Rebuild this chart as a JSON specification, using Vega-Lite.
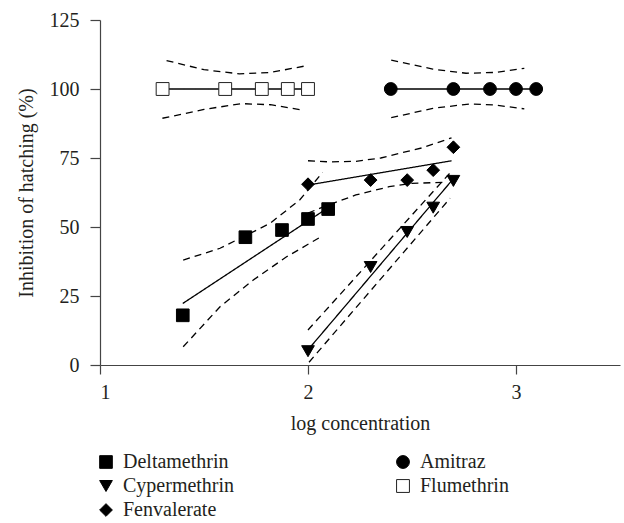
{
  "$schema": "https://vega.github.io/schema/vega-lite/v6.json",
  "autosize": {"type": "none"},
  "padding": {"left": 100, "top": 20, "right": 4, "bottom": 158},
  "width": 520,
  "height": 345,
  "background": "white",
  "config": {
    "view": {"stroke": null},
    "font": "Liberation Serif",
    "axis": {
      "grid": false,
      "domainColor": "#444",
      "tickColor": "#444",
      "domainWidth": 1.2,
      "tickWidth": 1.2,
      "labelFont": "Liberation Serif",
      "titleFont": "Liberation Serif",
      "labelFontSize": 20,
      "titleFontSize": 20,
      "titleFontWeight": "normal",
      "labelColor": "#231f20",
      "titleColor": "#231f20"
    },
    "legend": {
      "labelFont": "Liberation Serif",
      "labelFontSize": 20,
      "labelColor": "#231f20"
    }
  },
  "datasets": {
    "points": [
      {"insecticide": "Deltamethrin", "logc": 1.398, "inhibition": 18},
      {"insecticide": "Deltamethrin", "logc": 1.699, "inhibition": 46.3},
      {"insecticide": "Deltamethrin", "logc": 1.875, "inhibition": 48.9},
      {"insecticide": "Deltamethrin", "logc": 2.0, "inhibition": 52.9},
      {"insecticide": "Deltamethrin", "logc": 2.097, "inhibition": 56.5},
      {"insecticide": "Cypermethrin", "logc": 2.0, "inhibition": 5},
      {"insecticide": "Cypermethrin", "logc": 2.301, "inhibition": 35.5},
      {"insecticide": "Cypermethrin", "logc": 2.477, "inhibition": 48.2},
      {"insecticide": "Cypermethrin", "logc": 2.602, "inhibition": 57},
      {"insecticide": "Cypermethrin", "logc": 2.699, "inhibition": 66.7},
      {"insecticide": "Fenvalerate", "logc": 2.0, "inhibition": 65.5},
      {"insecticide": "Fenvalerate", "logc": 2.301, "inhibition": 67},
      {"insecticide": "Fenvalerate", "logc": 2.477, "inhibition": 67},
      {"insecticide": "Fenvalerate", "logc": 2.602, "inhibition": 70.6},
      {"insecticide": "Fenvalerate", "logc": 2.699, "inhibition": 78.9},
      {"insecticide": "Amitraz", "logc": 2.398, "inhibition": 100},
      {"insecticide": "Amitraz", "logc": 2.699, "inhibition": 100},
      {"insecticide": "Amitraz", "logc": 2.875, "inhibition": 100},
      {"insecticide": "Amitraz", "logc": 3.0, "inhibition": 100},
      {"insecticide": "Amitraz", "logc": 3.097, "inhibition": 100},
      {"insecticide": "Flumethrin", "logc": 1.301, "inhibition": 100},
      {"insecticide": "Flumethrin", "logc": 1.602, "inhibition": 100},
      {"insecticide": "Flumethrin", "logc": 1.778, "inhibition": 100},
      {"insecticide": "Flumethrin", "logc": 1.903, "inhibition": 100},
      {"insecticide": "Flumethrin", "logc": 2.0, "inhibition": 100}
    ],
    "lines": [
      {"curve": "Delta fit", "kind": "fit", "logc": 1.398, "inhibition": 22.3},
      {"curve": "Delta fit", "kind": "fit", "logc": 2.097, "inhibition": 57},
      {"curve": "Delta upper", "kind": "ci", "logc": 1.4, "inhibition": 38},
      {"curve": "Delta upper", "kind": "ci", "logc": 1.577, "inhibition": 42.3},
      {"curve": "Delta upper", "kind": "ci", "logc": 1.69, "inhibition": 46.5},
      {"curve": "Delta upper", "kind": "ci", "logc": 1.817, "inhibition": 51.3},
      {"curve": "Delta upper", "kind": "ci", "logc": 1.96, "inhibition": 59.8},
      {"curve": "Delta upper", "kind": "ci", "logc": 2.07, "inhibition": 69.8},
      {"curve": "Delta lower", "kind": "ci", "logc": 1.4, "inhibition": 6.6},
      {"curve": "Delta lower", "kind": "ci", "logc": 1.577, "inhibition": 21.1},
      {"curve": "Delta lower", "kind": "ci", "logc": 1.737, "inhibition": 30.8},
      {"curve": "Delta lower", "kind": "ci", "logc": 1.897, "inhibition": 39.2},
      {"curve": "Delta lower", "kind": "ci", "logc": 2.07, "inhibition": 46.8},
      {"curve": "Cyper fit", "kind": "fit", "logc": 2.0, "inhibition": 5.5},
      {"curve": "Cyper fit", "kind": "fit", "logc": 2.699, "inhibition": 67.5},
      {"curve": "Cyper upper", "kind": "ci", "logc": 2.0, "inhibition": 12.7},
      {"curve": "Cyper upper", "kind": "ci", "logc": 2.69, "inhibition": 70.2},
      {"curve": "Cyper lower", "kind": "ci", "logc": 2.005, "inhibition": 1},
      {"curve": "Cyper lower", "kind": "ci", "logc": 2.683, "inhibition": 60.4},
      {"curve": "Fenv fit", "kind": "fit", "logc": 2.0, "inhibition": 65.2},
      {"curve": "Fenv fit", "kind": "fit", "logc": 2.69, "inhibition": 74},
      {"curve": "Fenv upper", "kind": "ci", "logc": 2.0, "inhibition": 74},
      {"curve": "Fenv upper", "kind": "ci", "logc": 2.1, "inhibition": 73.6},
      {"curve": "Fenv upper", "kind": "ci", "logc": 2.23, "inhibition": 73.8},
      {"curve": "Fenv upper", "kind": "ci", "logc": 2.35, "inhibition": 75},
      {"curve": "Fenv upper", "kind": "ci", "logc": 2.44, "inhibition": 76.7},
      {"curve": "Fenv upper", "kind": "ci", "logc": 2.55, "inhibition": 78.7},
      {"curve": "Fenv upper", "kind": "ci", "logc": 2.69, "inhibition": 82.3},
      {"curve": "Fenv lower", "kind": "ci", "logc": 2.0, "inhibition": 55},
      {"curve": "Fenv lower", "kind": "ci", "logc": 2.07, "inhibition": 57.2},
      {"curve": "Fenv lower", "kind": "ci", "logc": 2.23, "inhibition": 61.6},
      {"curve": "Fenv lower", "kind": "ci", "logc": 2.39, "inhibition": 64.6},
      {"curve": "Fenv lower", "kind": "ci", "logc": 2.5, "inhibition": 65.8},
      {"curve": "Fenv lower", "kind": "ci", "logc": 2.65, "inhibition": 66.2},
      {"curve": "Flu fit", "kind": "fit", "logc": 1.301, "inhibition": 100},
      {"curve": "Flu fit", "kind": "fit", "logc": 2.0, "inhibition": 100},
      {"curve": "Flu upper", "kind": "ci", "logc": 1.32, "inhibition": 110.3},
      {"curve": "Flu upper", "kind": "ci", "logc": 1.5, "inhibition": 107},
      {"curve": "Flu upper", "kind": "ci", "logc": 1.67, "inhibition": 105.5},
      {"curve": "Flu upper", "kind": "ci", "logc": 1.82, "inhibition": 106},
      {"curve": "Flu upper", "kind": "ci", "logc": 1.99, "inhibition": 108.4},
      {"curve": "Flu lower", "kind": "ci", "logc": 1.3, "inhibition": 89.4},
      {"curve": "Flu lower", "kind": "ci", "logc": 1.5, "inhibition": 92.6},
      {"curve": "Flu lower", "kind": "ci", "logc": 1.68, "inhibition": 94.7},
      {"curve": "Flu lower", "kind": "ci", "logc": 1.82, "inhibition": 94.3},
      {"curve": "Flu lower", "kind": "ci", "logc": 1.97, "inhibition": 92.4},
      {"curve": "Ami fit", "kind": "fit", "logc": 2.398, "inhibition": 100},
      {"curve": "Ami fit", "kind": "fit", "logc": 3.097, "inhibition": 100},
      {"curve": "Ami upper", "kind": "ci", "logc": 2.4, "inhibition": 110.5},
      {"curve": "Ami upper", "kind": "ci", "logc": 2.6, "inhibition": 107.2},
      {"curve": "Ami upper", "kind": "ci", "logc": 2.76, "inhibition": 105.7},
      {"curve": "Ami upper", "kind": "ci", "logc": 2.9, "inhibition": 106},
      {"curve": "Ami upper", "kind": "ci", "logc": 3.04, "inhibition": 107.5},
      {"curve": "Ami lower", "kind": "ci", "logc": 2.4, "inhibition": 89.6},
      {"curve": "Ami lower", "kind": "ci", "logc": 2.6, "inhibition": 93},
      {"curve": "Ami lower", "kind": "ci", "logc": 2.78, "inhibition": 94.6},
      {"curve": "Ami lower", "kind": "ci", "logc": 2.9, "inhibition": 94.2},
      {"curve": "Ami lower", "kind": "ci", "logc": 3.04, "inhibition": 92.8}
    ]
  },
  "encoding": {
    "x": {
      "field": "logc",
      "type": "quantitative",
      "scale": {"domain": [1, 3.5], "nice": false, "zero": false},
      "axis": {"values": [1, 2, 3], "title": "log concentration", "tickSize": 9, "labelPadding": 8, "titlePadding": 11, "format": "d"}
    },
    "y": {
      "field": "inhibition",
      "type": "quantitative",
      "scale": {"domain": [0, 125], "nice": false},
      "axis": {"values": [0, 25, 50, 75, 100, 125], "title": "Inhibition of hatching (%)", "tickSize": 10, "labelPadding": 11, "titlePadding": 13}
    }
  },
  "layer": [
    {
      "data": {"name": "lines"},
      "mark": {"type": "line", "color": "black", "strokeWidth": 1.3},
      "encoding": {
        "detail": {"field": "curve"},
        "strokeDash": {
          "field": "kind",
          "type": "nominal",
          "scale": {"domain": ["fit", "ci"], "range": [[1, 0], [7, 5]]},
          "legend": null
        }
      }
    },
    {
      "data": {"name": "points"},
      "mark": {"type": "point", "filled": true, "opacity": 1, "strokeWidth": 1},
      "encoding": {
        "shape": {
          "field": "insecticide",
          "type": "nominal",
          "scale": {
            "domain": ["Deltamethrin", "Cypermethrin", "Fenvalerate", "Amitraz", "Flumethrin"],
            "range": ["square", "triangle-down", "diamond", "circle", "square"]
          },
          "legend": {
            "title": null,
            "orient": "none",
            "legendX": -4,
            "legendY": 432,
            "columns": 2,
            "direction": "vertical",
            "columnPadding": 158,
            "rowPadding": 4,
            "symbolStrokeColor": "black",
            "symbolStrokeWidth": 1,
            "symbolOpacity": 1,
            "labelOffset": 7
          }
        },
        "size": {
          "field": "insecticide",
          "type": "nominal",
          "scale": {
            "domain": ["Deltamethrin", "Cypermethrin", "Fenvalerate", "Amitraz", "Flumethrin"],
            "range": [160, 165, 220, 160, 150]
          }
        },
        "fill": {
          "field": "insecticide",
          "type": "nominal",
          "scale": {
            "domain": ["Deltamethrin", "Cypermethrin", "Fenvalerate", "Amitraz", "Flumethrin"],
            "range": ["black", "black", "black", "black", "white"]
          }
        },
        "stroke": {
          "field": "insecticide",
          "type": "nominal",
          "scale": {
            "domain": ["Deltamethrin", "Cypermethrin", "Fenvalerate", "Amitraz", "Flumethrin"],
            "range": ["black", "black", "black", "black", "#222"]
          }
        }
      }
    }
  ]
}
